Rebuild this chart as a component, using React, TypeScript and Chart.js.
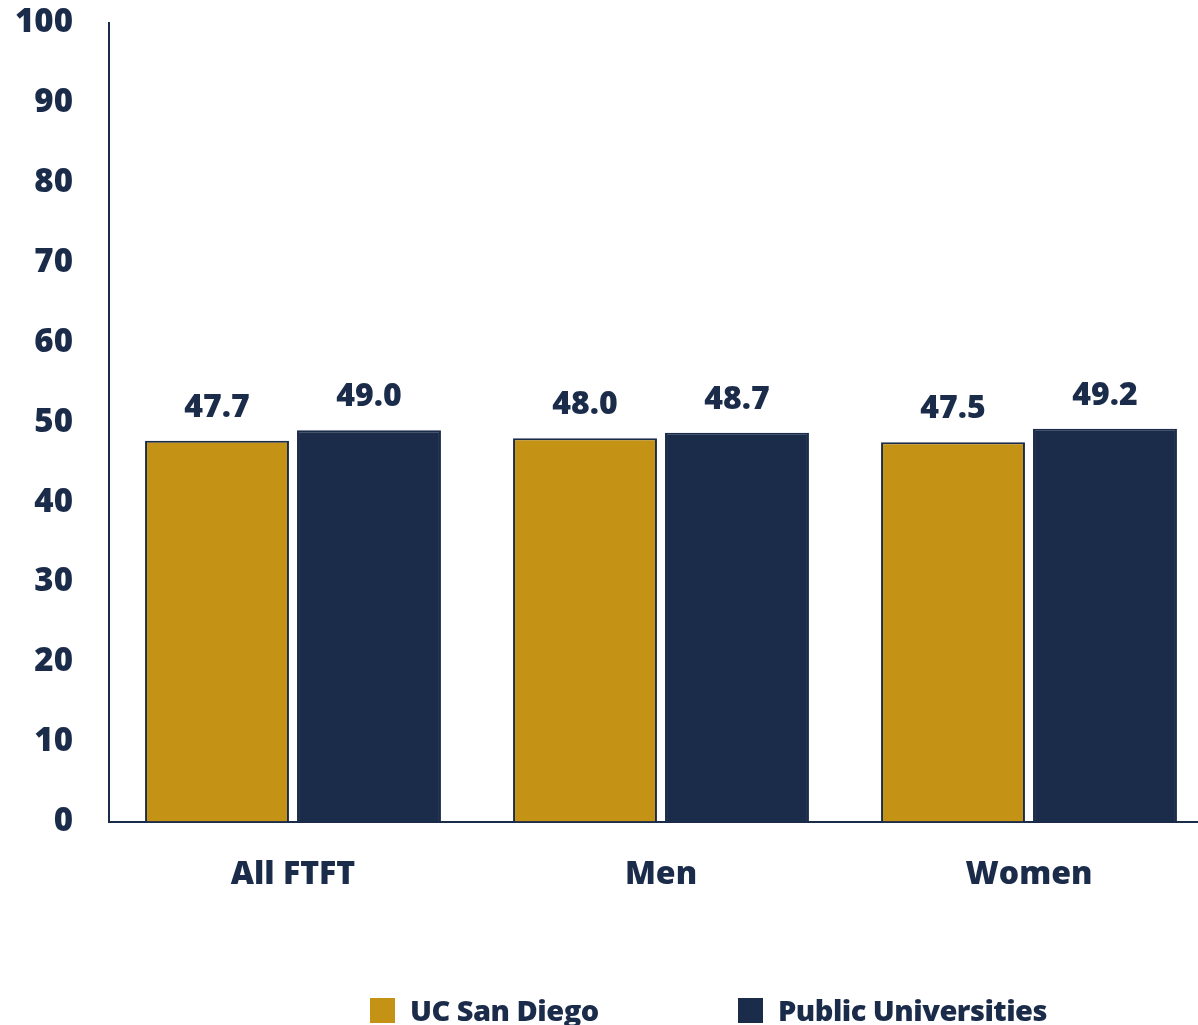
import React, { useEffect, useRef } from "react";
import { Chart, registerables } from "chart.js";

Chart.register(...registerables);

const categories = ["All FTFT", "Men", "Women"];
const ucsdValues = [47.7, 48.0, 47.5];
const publicValues = [49.0, 48.7, 49.2];
const seriesNames = ["UC San Diego", "Public Universities"];
const yTicks = [0, 10, 20, 30, 40, 50, 60, 70, 80, 90, 100];

const GOLD = "#C49214";
const NAVY = "#1B2C4A";
const FONT = "'Open Sans', 'Noto Sans', sans-serif";

const valueLabels = {
  id: "valueLabels",
  afterDatasetsDraw(chart: any) {
    const ctx = chart.ctx;
    ctx.save();
    ctx.font = `800 32px ${FONT}`;
    ctx.fillStyle = NAVY;
    ctx.textAlign = "center";
    ctx.textBaseline = "middle";
    chart.data.datasets.forEach((ds: any, di: number) => {
      const meta = chart.getDatasetMeta(di);
      meta.data.forEach((bar: any, i: number) => {
        ctx.fillText(Number(ds.data[i]).toFixed(1), bar.x, bar.y - 33);
      });
    });
    ctx.restore();
  },
};

export default function App() {
  const ref = useRef<HTMLCanvasElement>(null);
  useEffect(() => {
    if (!ref.current) return;
    const chart = new Chart(ref.current, {
      type: "bar",
      data: {
        labels: categories,
        datasets: [
          {
            label: seriesNames[0],
            data: ucsdValues,
            backgroundColor: GOLD,
            borderColor: NAVY,
            borderWidth: 2,
            categoryPercentage: 0.826,
            barPercentage: 0.947,
          },
          {
            label: seriesNames[1],
            data: publicValues,
            backgroundColor: NAVY,
            borderColor: NAVY,
            borderWidth: 2,
            categoryPercentage: 0.826,
            barPercentage: 0.947,
          },
        ],
      },
      options: {
        responsive: false,
        animation: false,
        layout: { padding: { top: 23, right: 2, bottom: 97, left: 0 } },
        plugins: {
          legend: { display: false },
          tooltip: { enabled: false },
        },
        scales: {
          x: {
            grid: { display: false, drawTicks: false },
            border: { display: true, color: NAVY, width: 2 },
            afterFit: (scale: any) => {
              scale.paddingLeft = 0;
              scale.paddingRight = 0;
            },
            ticks: {
              color: NAVY,
              font: { family: FONT, size: 32, weight: "800" },
              padding: 34,
            },
          },
          y: {
            min: 0,
            max: 100,
            afterBuildTicks: (scale: any) => {
              scale.ticks = yTicks.map((v) => ({ value: v }));
            },
            afterFit: (scale: any) => {
              scale.width = 109;
              scale.paddingTop = 0;
              scale.paddingBottom = 0;
            },
            grid: { display: false, drawTicks: false },
            border: { display: true, color: NAVY, width: 2 },
            ticks: {
              color: NAVY,
              font: { family: FONT, size: 33, weight: "800" },
              padding: 36,
            },
          },
        },
      },
      plugins: [valueLabels],
    });
    return () => chart.destroy();
  }, []);

  const legendText: React.CSSProperties = {
    fontFamily: FONT,
    fontWeight: 800,
    fontSize: 29,
    color: NAVY,
    lineHeight: "34px",
    whiteSpace: "nowrap",
    letterSpacing: "-0.5px",
  };
  const box = (c: string): React.CSSProperties => ({
    width: 25,
    height: 25,
    background: c,
    marginRight: 15,
    flex: "none",
  });

  return (
    <div
      style={{
        position: "absolute",
        left: 0,
        top: 0,
        width: 1198,
        height: 1025,
        overflow: "hidden",
        background: "#fff",
      }}
    >
      <canvas ref={ref} width={1215} height={1025} style={{ display: "block", width: 1215, height: 1025 }} />
      <div style={{ position: "absolute", left: 370, top: 993, display: "flex", alignItems: "center" }}>
        <div style={box(GOLD)} />
        <span style={legendText}>{seriesNames[0]}</span>
      </div>
      <div style={{ position: "absolute", left: 738, top: 993, display: "flex", alignItems: "center" }}>
        <div style={box(NAVY)} />
        <span style={legendText}>{seriesNames[1]}</span>
      </div>
    </div>
  );
}
